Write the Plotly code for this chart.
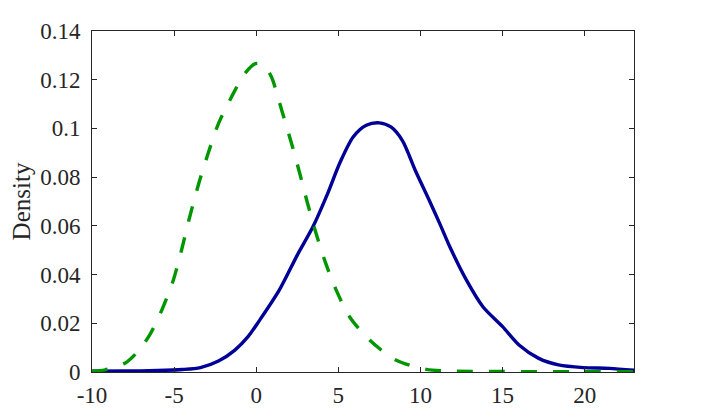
import plotly.graph_objects as go

blue_x = [-10, -8, -6, -4.5, -3.4, -2.3, -1.3, -0.5, 0.2, 1.4, 2.5, 3.45, 4.3, 5.1, 5.9, 6.7, 7.5, 8.2, 8.9, 9.7, 10.6, 11.2, 11.8, 12.8, 13.8, 15.0, 16.0, 17.2, 18.4, 19.9, 21.5, 23]
blue_y = [0.0003, 0.0004, 0.0006, 0.0010, 0.0018, 0.0045, 0.0090, 0.0145, 0.0212, 0.0336, 0.0480, 0.0596, 0.0725, 0.0860, 0.0965, 0.1013, 0.1023, 0.1006, 0.0950, 0.0825, 0.0695, 0.0605, 0.0512, 0.0377, 0.0268, 0.0186, 0.0111, 0.0056, 0.0029, 0.0018, 0.0015, 0.0007]

green_x = [-10, -9.2, -8.0, -7.4, -6.55, -5.75, -5.05, -4.55, -4.1, -3.5, -3.0, -2.3, -1.5, -0.7, -0.05, 0.4, 0.9, 1.55, 2.15, 2.65, 3.07, 3.58, 4.2, 4.87, 5.68, 6.9, 8.5, 10.35, 12, 15, 20, 23]
green_y = [0.0003, 0.0009, 0.0036, 0.0070, 0.0145, 0.0254, 0.0377, 0.0500, 0.0624, 0.0774, 0.0883, 0.1020, 0.1130, 0.1225, 0.1266, 0.1262, 0.1215, 0.1075, 0.0938, 0.0815, 0.0706, 0.0583, 0.0452, 0.0336, 0.0227, 0.0131, 0.0049, 0.0011, 0.0004, 0.0002, 0.0001, 0.0001]

x_ticks = [-10, -5, 0, 5, 10, 15, 20]
y_ticks = [0, 0.02, 0.04, 0.06, 0.08, 0.1, 0.12, 0.14]
y_labels = ["0", "0.02", "0.04", "0.06", "0.08", "0.1", "0.12", "0.14"]

fig = go.Figure()
fig.add_trace(go.Scatter(x=blue_x, y=blue_y, mode="lines", cliponaxis=False,
                         line=dict(color="#000096", width=3.4, shape="spline", smoothing=0.8),
                         showlegend=False))
fig.add_trace(go.Scatter(x=green_x, y=green_y, mode="lines", cliponaxis=False,
                         line=dict(color="#009600", width=3.4, shape="spline", smoothing=0.8, dash="16px,16px"),
                         showlegend=False))

axis_common = dict(showline=True, linecolor="#262626", linewidth=1, mirror="ticks",
                   ticks="inside", ticklen=5, tickcolor="#262626", tickwidth=1,
                   showgrid=False, zeroline=False,
                   tickfont=dict(family="Liberation Serif", size=23, color="#262626"))

fig.update_xaxes(range=[-10, 23], tickvals=x_ticks, ticktext=[str(v) for v in x_ticks],
                 ticklabelstandoff=2, **axis_common)
fig.update_yaxes(range=[0, 0.14], tickvals=y_ticks, ticktext=y_labels, ticklabelstandoff=6,
                 title=dict(text="Density", font=dict(family="Liberation Serif", size=25, color="#262626"), standoff=4),
                 **axis_common)

# page body has an 8px margin; compensate so the axes box lands at x 92-634, y 31-372
fig.update_layout(width=702, height=417, margin=dict(l=84, r=76, t=23, b=53),
                  plot_bgcolor="white", paper_bgcolor="white")

fig.write_html("out.html")
